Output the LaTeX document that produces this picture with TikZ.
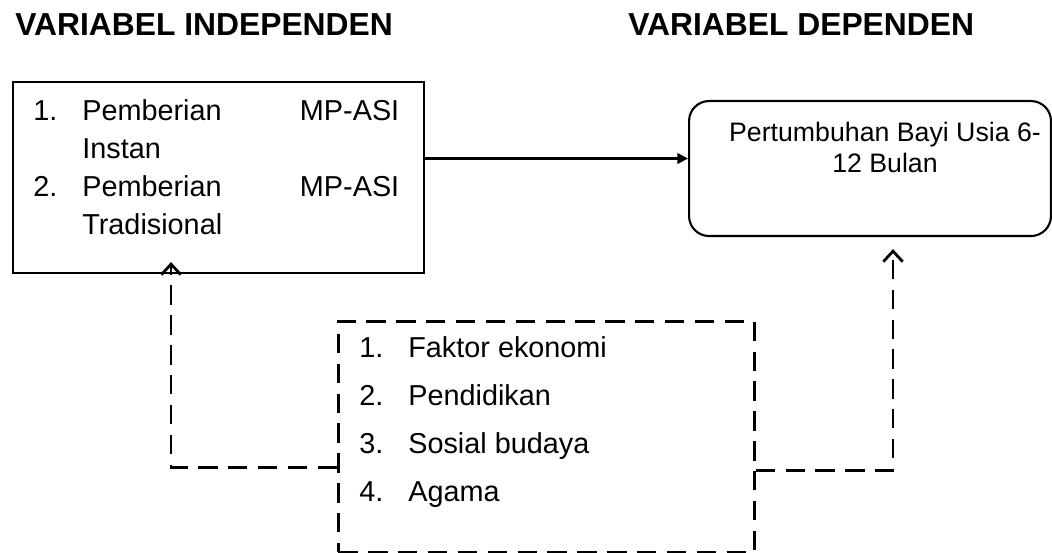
\documentclass[tikz,border=0pt]{standalone}
\usepackage{fontspec}
\setmainfont{Liberation Sans}
\usetikzlibrary{arrows.meta}

\begin{document}
\begin{tikzpicture}[x=0.02cm, y=-0.02cm,
    solidbox/.style={draw, line width=1.2pt, inner sep=0, anchor=north west},
    dashbox/.style={draw, line width=1.6pt, dash pattern=on 11pt off 6pt, inner sep=0, anchor=north west},
    txt/.style={inner sep=0, font=\fontsize{16.4}{21.5}\selectfont},
    title/.style={inner sep=0, anchor=base west, font=\fontsize{18.1}{20}\selectfont\bfseries},
    solidlink/.style={line width=1.2pt, -{Triangle[length=6pt,width=6pt]}},
    dashlink/.style={line width=1.6pt, dash pattern=on 11pt off 6pt, -{Straight Barb[length=6pt,width=11pt]}}]
    \useasboundingbox (0,0) rectangle (1052,553);

    % titles
    \node [title] (indeptitle) at (15,36) {VARIABEL INDEPENDEN};
    \node [title] (deptitle) at (628,36) {VARIABEL DEPENDEN};

    % boxes
    \node [solidbox, minimum width=8.22cm, minimum height=3.82cm] (indep) at (12,81) {};
    \node [solidbox, rounded corners=0.4cm, minimum width=7.24cm, minimum height=2.7cm] (dep) at (688,100) {};
    \node [dashbox, minimum width=8.32cm, minimum height=4.62cm] (factors) at (337,320) {};

    % texts
    \node [txt, anchor=base west] (indeptext) at (33,121) {%
        \begin{tabular}[t]{@{}p{0.98cm}@{}p{6.34cm}@{}}
            1. & Pemberian\hfill MP-ASI\\
               & Instan\\
            2. & Pemberian\hfill MP-ASI\\
               & Tradisional
        \end{tabular}};
    \node [inner sep=0, anchor=base, font=\fontsize{15.2}{17.6}\selectfont] (deptext) at (885,142) {%
        \begin{tabular}[t]{@{}c@{}}
            Pertumbuhan Bayi Usia 6-\\
            12 Bulan
        \end{tabular}};
    \node [txt, anchor=base west, font=\fontsize{16.4}{27.2}\selectfont] (factortext) at (359,358) {%
        \begin{tabular}[t]{@{}p{0.98cm}@{}l@{}}
            1. & Faktor ekonomi\\
            2. & Pendidikan\\
            3. & Sosial budaya\\
            4. & Agama
        \end{tabular}};

    % connectors
    \draw [solidlink] ([yshift=0.38cm]indep.east) -- ([yshift=0.38cm]indep.east -| dep.west);
    \draw [dashlink] ([yshift=-0.61cm]factors.west) -| ([xshift=-0.95cm,yshift=0.24cm]indep.south);
    \draw [dashlink] ([yshift=-0.67cm]factors.east) -| ([xshift=0.46cm,yshift=-0.24cm]dep.south);
\end{tikzpicture}
\end{document}
